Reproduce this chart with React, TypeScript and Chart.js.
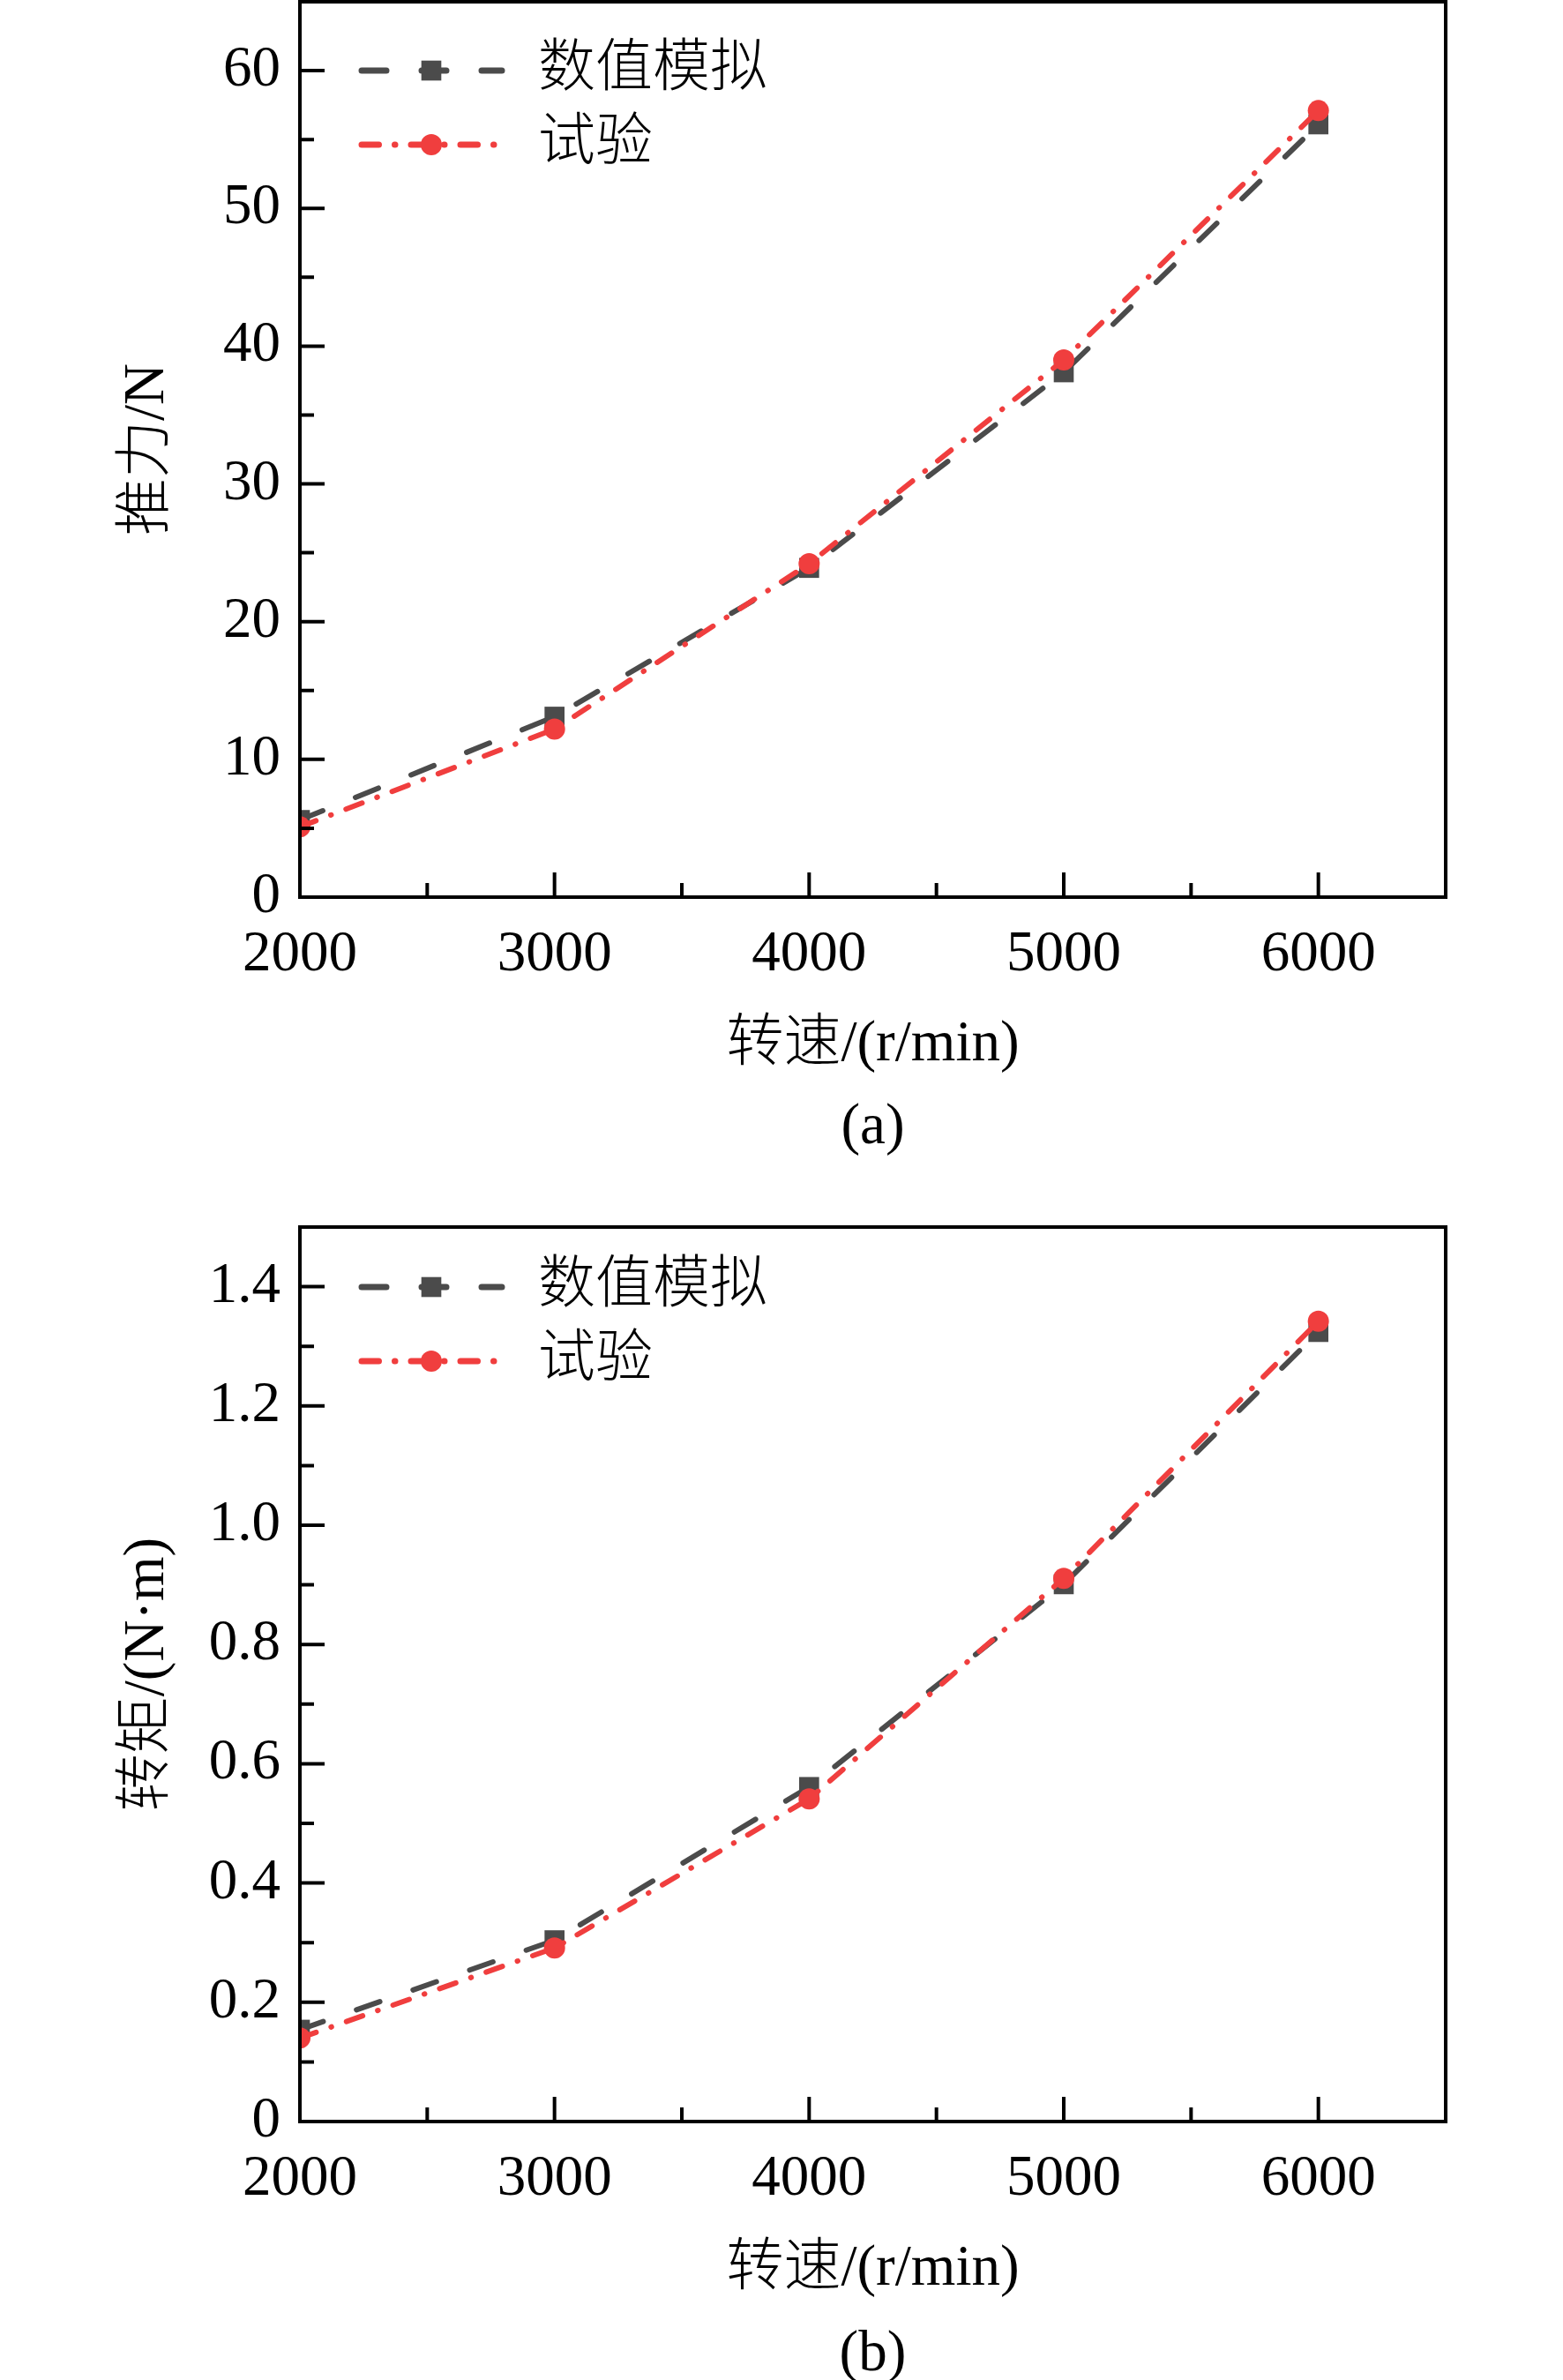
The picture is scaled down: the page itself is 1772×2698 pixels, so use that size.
import { useEffect, useRef } from 'react';
import { Chart, registerables } from 'chart.js';

Chart.register(...registerables);

// 转速 (r/min)
const speeds = [2000, 3000, 4000, 5000, 6000];
const seriesNames = ['数值模拟', '试验'];

// (a) 推力/N
const thrustSim = [5.6, 13.1, 23.9, 38.1, 56.1];
const thrustTest = [5.1, 12.2, 24.2, 39.0, 57.1];
const thrustTicks = [0, 10, 20, 30, 40, 50, 60];

// (b) 转矩/(N·m)
const torqueSim = [0.154, 0.304, 0.561, 0.901, 1.324];
const torqueTest = [0.14, 0.291, 0.541, 0.911, 1.342];
const torqueTicks = [0, 0.2, 0.4, 0.6, 0.8, 1.0, 1.2, 1.4];

const xTicks = [2000, 3000, 4000, 5000, 6000];

const FONT = "'Liberation Serif', 'Times New Roman', 'Noto Sans CJK SC', serif";
const GRAY = '#4b4b4b';
const RED = '#f03e3e';
const GRAY_DASH = [28, 40];
const RED_DASH = [19.5, 18, 0.5, 18];

// box round the plot, with the ticks pointing inwards on the bottom and left sides
const framePlugin = {
  id: 'frame',
  afterDatasetsDraw(chart: any) {
    const { ctx, chartArea: a, scales } = chart;
    ctx.save();
    ctx.strokeStyle = '#000';
    ctx.lineWidth = 4;
    ctx.setLineDash([]);
    ctx.strokeRect(a.left, a.top, a.right - a.left, a.bottom - a.top);
    ctx.beginPath();
    scales.x.ticks.forEach((t: any) => {
      const px = scales.x.getPixelForValue(t.value);
      const len = t.label ? 28 : 16;
      ctx.moveTo(px, a.bottom);
      ctx.lineTo(px, a.bottom - len);
    });
    scales.y.ticks.forEach((t: any) => {
      const py = scales.y.getPixelForValue(t.value);
      const len = t.label ? 28 : 16;
      ctx.moveTo(a.left, py);
      ctx.lineTo(a.left + len, py);
    });
    ctx.stroke();
    ctx.restore();
  },
};

// line + marker legend, as in the original figure
const legendPlugin = {
  id: 'seriesLegend',
  afterDraw(chart: any, _args: any, opts: any) {
    const { ctx, chartArea: a } = chart;
    ctx.save();
    chart.data.datasets.forEach((ds: any, i: number) => {
      const y = a.top + opts.rows[i];
      const x0 = a.left + 70;
      const x1 = a.left + 229;
      const xm = a.left + 149;
      ctx.strokeStyle = ds.borderColor;
      ctx.lineWidth = 7;
      ctx.lineCap = 'round';
      ctx.setLineDash(ds.borderDash);
      ctx.beginPath();
      ctx.moveTo(x0, y);
      ctx.lineTo(x1, y);
      ctx.stroke();
      ctx.setLineDash([]);
      ctx.fillStyle = ds.borderColor;
      if (ds.pointStyle === 'rect') {
        const s = ds.pointRadius * Math.SQRT1_2;
        ctx.fillRect(xm - s, y - s, 2 * s, 2 * s);
      } else {
        ctx.beginPath();
        ctx.arc(xm, y, ds.pointRadius, 0, Math.PI * 2);
        ctx.fill();
      }
      ctx.fillStyle = '#000';
      ctx.font = `300 65px ${FONT}`;
      ctx.textAlign = 'left';
      ctx.textBaseline = 'middle';
      ctx.fillText(ds.label, a.left + 270, y);
    });
    ctx.restore();
  },
};

interface PanelProps {
  height: number;
  padTop: number;
  sim: number[];
  test: number[];
  yMax: number;
  yStep: number;
  yLabels: number[];
  yTitle: string;
  caption: string;
  captionPad: { top: number; bottom: number };
  legendRows: number[];
}

function Panel(p: PanelProps) {
  const canvasRef = useRef<HTMLCanvasElement>(null);

  useEffect(() => {
    if (!canvasRef.current) return;
    const tickFont = { family: FONT, size: 65 };
    const titleFont = { family: FONT, size: 65, weight: 300 };
    const chart = new Chart(canvasRef.current, {
      type: 'line',
      data: {
        datasets: [
          {
            label: seriesNames[0],
            data: speeds.map((x, i) => ({ x, y: p.sim[i] })),
            borderColor: GRAY,
            backgroundColor: GRAY,
            borderWidth: 6,
            borderDash: GRAY_DASH,
            borderCapStyle: 'round',
            pointStyle: 'rect',
            pointRadius: 16,
            pointBackgroundColor: GRAY,
            pointBorderWidth: 0,
            tension: 0,
            order: 2,
          },
          {
            label: seriesNames[1],
            data: speeds.map((x, i) => ({ x, y: p.test[i] })),
            borderColor: RED,
            backgroundColor: RED,
            borderWidth: 6,
            borderDash: RED_DASH,
            borderCapStyle: 'round',
            pointStyle: 'circle',
            pointRadius: 12,
            pointBackgroundColor: RED,
            pointBorderWidth: 0,
            tension: 0,
            order: 1,
          },
        ],
      } as any,
      options: {
        animation: false,
        responsive: true,
        maintainAspectRatio: false,
        layout: {
          autoPadding: false,
          padding: { top: p.padTop, left: 0, right: 133, bottom: 0 },
        },
        plugins: {
          legend: { display: false },
          tooltip: { enabled: false },
          title: {
            display: true,
            position: 'bottom',
            fullSize: false,
            text: p.caption,
            color: '#000',
            font: { family: FONT, size: 65, weight: 'normal', lineHeight: 0.8 },
            padding: p.captionPad,
          },
          seriesLegend: { rows: p.legendRows },
        } as any,
        scales: {
          x: {
            type: 'linear',
            min: 2000,
            max: 6500,
            afterFit: (s: any) => {
              s.height = 207;
              s.paddingLeft = 0;
              s.paddingRight = 0;
            },
            grid: { display: false, drawTicks: false },
            border: { display: false },
            ticks: {
              stepSize: 500,
              autoSkip: false,
              maxRotation: 0,
              padding: 27,
              color: '#000',
              font: tickFont,
              callback: (v: any) => (xTicks.includes(Number(v)) ? String(v) : ''),
            },
            title: {
              display: true,
              text: '转速/(r/min)',
              color: '#000',
              font: titleFont,
              padding: { top: 0, bottom: 0 },
            },
          },
          y: {
            type: 'linear',
            min: 0,
            max: p.yMax,
            afterFit: (s: any) => {
              s.width = 340;
              s.paddingTop = 0;
              s.paddingBottom = 0;
            },
            grid: { display: false, drawTicks: false },
            border: { display: false },
            ticks: {
              stepSize: p.yStep,
              autoSkip: false,
              padding: 22,
              color: '#000',
              font: tickFont,
              callback: (v: any) => {
                const n = Number(v);
                const hit = p.yLabels.find((l) => Math.abs(l - n) < 1e-6);
                if (hit === undefined) return '';
                if (hit === 0) return '0';
                return p.yStep < 1 ? hit.toFixed(1) : String(hit);
              },
            },
            title: {
              display: true,
              text: p.yTitle,
              color: '#000',
              font: titleFont,
              padding: { top: 129, bottom: 0 },
            },
          },
        },
      } as any,
      plugins: [framePlugin, legendPlugin],
    });
    return () => chart.destroy();
  }, []);

  return (
    <div style={{ position: 'relative', width: 1772, height: p.height }}>
      <canvas ref={canvasRef} />
    </div>
  );
}

export default function App() {
  useEffect(() => {
    document.body.style.margin = '0';
    document.body.style.background = '#fff';
  }, []);

  return (
    <div style={{ width: 1772, height: 2698, background: '#fff' }}>
      <Panel
        height={1340}
        padTop={2}
        sim={thrustSim}
        test={thrustTest}
        yMax={65}
        yStep={5}
        yLabels={thrustTicks}
        yTitle="推力/N"
        caption="(a)"
        captionPad={{ top: 29, bottom: 35 }}
        legendRows={[78, 162]}
      />
      <Panel
        height={1358}
        padTop={51}
        sim={torqueSim}
        test={torqueTest}
        yMax={1.5}
        yStep={0.1}
        yLabels={torqueTicks}
        yTitle="转矩/(N·m)"
        caption="(b)"
        captionPad={{ top: 32, bottom: 2 }}
        legendRows={[68, 152]}
      />
    </div>
  );
}
